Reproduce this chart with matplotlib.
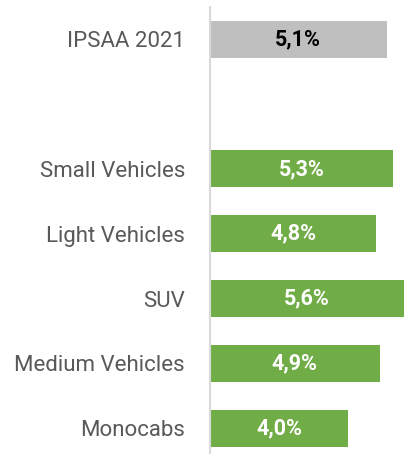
import matplotlib.pyplot as plt
import numpy as np

plt.rcParams['font.family'] = ['Roboto', 'DejaVu Sans']

# Data
categories = ['IPSAA 2021', '', 'Small Vehicles', 'Light Vehicles', 'SUV',
              'Medium Vehicles', 'Monocabs']
values = [5.1, np.nan, 5.3, 4.8, 5.6, 4.9, 4.0]
labels = ['5,1%', '', '5,3%', '4,8%', '5,6%', '4,9%', '4,0%']
colors = ['#bfbfbf', 'white', '#70ad47', '#70ad47', '#70ad47', '#70ad47',
          '#70ad47']
text_colors = ['black', 'black', 'white', 'white', 'white', 'white', 'white']

fig = plt.figure(figsize=(4.08, 4.54), dpi=100)
ax = fig.add_axes([210 / 408, 0, 198 / 408, 447 / 454])

pos = np.arange(len(categories))
ax.barh(pos, np.nan_to_num(values), height=0.57, color=colors)

for i, v in enumerate(values):
    if not np.isnan(v):
        ax.text(v / 2, i, labels[i], ha='center', va='center',
                fontsize=15.5, fontweight='bold', color=text_colors[i])

ax.set_xlim(0, 5.72)
ax.set_ylim(6.4, -0.5)
ax.set_yticks(pos)
ax.set_yticklabels(categories, fontsize=16, color='#595959')
ax.tick_params(axis='y', length=0, pad=18)
ax.set_xticks([])
for s in ['top', 'right', 'bottom']:
    ax.spines[s].set_visible(False)
ax.spines['left'].set_color('#d9d9d9')
ax.spines['left'].set_linewidth(1.5)

fig.savefig('out.png', dpi=100)
